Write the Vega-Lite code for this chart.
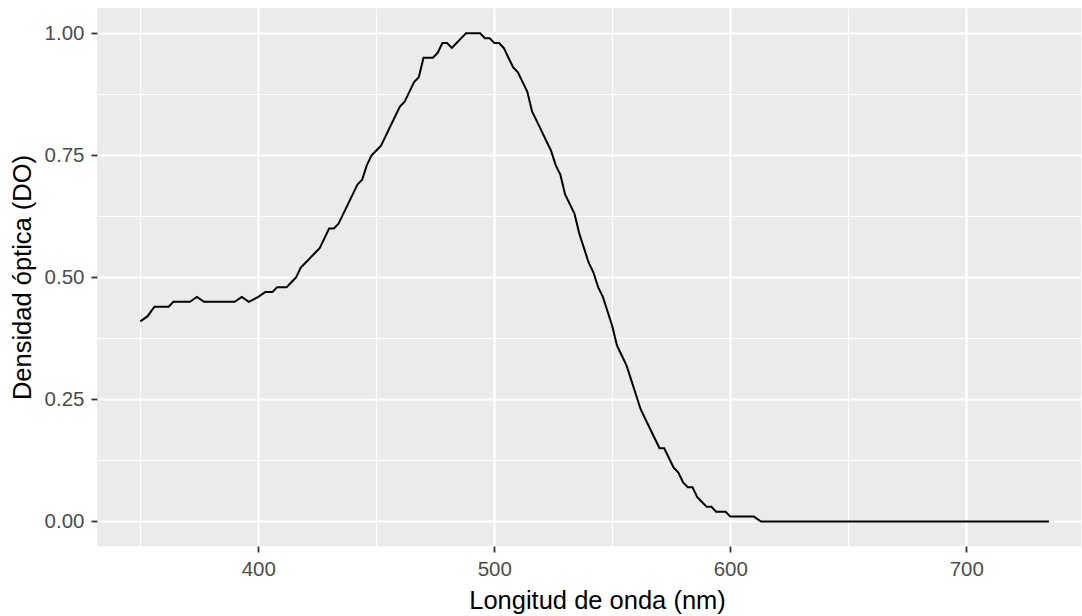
{
  "$schema": "https://vega.github.io/schema/vega-lite/v6.json",
  "width": 984,
  "height": 538,
  "autosize": "none",
  "padding": {"left": 97, "top": 8, "right": 1, "bottom": 70},
  "background": "white",
  "config": {
    "font": "Liberation Sans",
    "view": {"fill": "#EBEBEB", "stroke": null}
  },
  "data": {
    "values": [
      {"nm": 350, "do": 0.41}, {"nm": 353, "do": 0.42}, {"nm": 356, "do": 0.44}, {"nm": 360, "do": 0.44},
      {"nm": 362, "do": 0.44}, {"nm": 364, "do": 0.45}, {"nm": 368, "do": 0.45}, {"nm": 371, "do": 0.45},
      {"nm": 374, "do": 0.46}, {"nm": 377, "do": 0.45}, {"nm": 380, "do": 0.45}, {"nm": 385, "do": 0.45},
      {"nm": 390, "do": 0.45}, {"nm": 393, "do": 0.46}, {"nm": 396, "do": 0.45}, {"nm": 400, "do": 0.46},
      {"nm": 403, "do": 0.47}, {"nm": 406, "do": 0.47}, {"nm": 408, "do": 0.48}, {"nm": 412, "do": 0.48},
      {"nm": 414, "do": 0.49}, {"nm": 416, "do": 0.50}, {"nm": 418, "do": 0.52}, {"nm": 420, "do": 0.53},
      {"nm": 422, "do": 0.54}, {"nm": 424, "do": 0.55}, {"nm": 426, "do": 0.56}, {"nm": 428, "do": 0.58},
      {"nm": 430, "do": 0.60}, {"nm": 432, "do": 0.60}, {"nm": 434, "do": 0.61}, {"nm": 436, "do": 0.63},
      {"nm": 438, "do": 0.65}, {"nm": 440, "do": 0.67}, {"nm": 442, "do": 0.69}, {"nm": 444, "do": 0.70},
      {"nm": 446, "do": 0.73}, {"nm": 448, "do": 0.75}, {"nm": 450, "do": 0.76}, {"nm": 452, "do": 0.77},
      {"nm": 454, "do": 0.79}, {"nm": 456, "do": 0.81}, {"nm": 458, "do": 0.83}, {"nm": 460, "do": 0.85},
      {"nm": 462, "do": 0.86}, {"nm": 464, "do": 0.88}, {"nm": 466, "do": 0.90}, {"nm": 468, "do": 0.91},
      {"nm": 470, "do": 0.95}, {"nm": 472, "do": 0.95}, {"nm": 474, "do": 0.95}, {"nm": 476, "do": 0.96},
      {"nm": 478, "do": 0.98}, {"nm": 480, "do": 0.98}, {"nm": 482, "do": 0.97}, {"nm": 484, "do": 0.98},
      {"nm": 486, "do": 0.99}, {"nm": 488, "do": 1.00}, {"nm": 490, "do": 1.00}, {"nm": 492, "do": 1.00},
      {"nm": 494, "do": 1.00}, {"nm": 496, "do": 0.99}, {"nm": 498, "do": 0.99}, {"nm": 500, "do": 0.98},
      {"nm": 502, "do": 0.98}, {"nm": 504, "do": 0.97}, {"nm": 506, "do": 0.95}, {"nm": 508, "do": 0.93},
      {"nm": 510, "do": 0.92}, {"nm": 512, "do": 0.90}, {"nm": 514, "do": 0.88}, {"nm": 516, "do": 0.84},
      {"nm": 518, "do": 0.82}, {"nm": 520, "do": 0.80}, {"nm": 522, "do": 0.78}, {"nm": 524, "do": 0.76},
      {"nm": 526, "do": 0.73}, {"nm": 528, "do": 0.71}, {"nm": 530, "do": 0.67}, {"nm": 532, "do": 0.65},
      {"nm": 534, "do": 0.63}, {"nm": 536, "do": 0.59}, {"nm": 538, "do": 0.56}, {"nm": 540, "do": 0.53},
      {"nm": 542, "do": 0.51}, {"nm": 544, "do": 0.48}, {"nm": 546, "do": 0.46}, {"nm": 548, "do": 0.43},
      {"nm": 550, "do": 0.40}, {"nm": 552, "do": 0.36}, {"nm": 554, "do": 0.34}, {"nm": 556, "do": 0.32},
      {"nm": 558, "do": 0.29}, {"nm": 560, "do": 0.26}, {"nm": 562, "do": 0.23}, {"nm": 564, "do": 0.21},
      {"nm": 566, "do": 0.19}, {"nm": 568, "do": 0.17}, {"nm": 570, "do": 0.15}, {"nm": 572, "do": 0.15},
      {"nm": 574, "do": 0.13}, {"nm": 576, "do": 0.11}, {"nm": 578, "do": 0.10}, {"nm": 580, "do": 0.08},
      {"nm": 582, "do": 0.07}, {"nm": 584, "do": 0.07}, {"nm": 586, "do": 0.05}, {"nm": 588, "do": 0.04},
      {"nm": 590, "do": 0.03}, {"nm": 592, "do": 0.03}, {"nm": 594, "do": 0.02}, {"nm": 596, "do": 0.02},
      {"nm": 598, "do": 0.02}, {"nm": 600, "do": 0.01}, {"nm": 605, "do": 0.01}, {"nm": 610, "do": 0.01},
      {"nm": 613, "do": 0.00}, {"nm": 620, "do": 0.00}, {"nm": 650, "do": 0.00}, {"nm": 700, "do": 0.00},
      {"nm": 735, "do": 0.00}
    ]
  },
  "mark": {"type": "line", "color": "#000000", "strokeWidth": 2, "clip": true},
  "encoding": {
    "x": {
      "field": "nm",
      "type": "quantitative",
      "scale": {"domain": [331.65, 748.6], "nice": false, "zero": false},
      "axis": {
        "title": "Longitud de onda (nm)",
        "values": [350, 400, 450, 500, 550, 600, 650, 700],
        "labelExpr": "datum.value % 100 === 0 ? datum.label : ''",
        "domain": false,
        "grid": true,
        "gridColor": "#FFFFFF",
        "gridWidth": {"condition": {"test": "datum.value % 100 === 0", "value": 2.2}, "value": 1.1},
        "tickColor": "#333333",
        "tickSize": 6,
        "tickWidth": 1.8,
        "tickOpacity": {"condition": {"test": "datum.value % 100 === 0", "value": 1}, "value": 0},
        "labelColor": "#4D4D4D",
        "labelFontSize": 20.5,
        "labelPadding": 7,
        "titleColor": "#000000",
        "titleFontSize": 25.5,
        "titleFontWeight": "normal",
        "titleX": 500,
        "titlePadding": 9
      }
    },
    "y": {
      "field": "do",
      "type": "quantitative",
      "scale": {"domain": [-0.0502, 1.0518], "nice": false, "zero": false},
      "axis": {
        "title": "Densidad óptica (DO)",
        "values": [0, 0.125, 0.25, 0.375, 0.5, 0.625, 0.75, 0.875, 1],
        "format": ".2f",
        "labelExpr": "datum.value % 0.25 === 0 ? datum.label : ''",
        "domain": false,
        "grid": true,
        "gridColor": "#FFFFFF",
        "gridWidth": {"condition": {"test": "datum.value % 0.25 === 0", "value": 2.2}, "value": 1.1},
        "tickColor": "#333333",
        "tickSize": 6,
        "tickWidth": 1.8,
        "tickOpacity": {"condition": {"test": "datum.value % 0.25 === 0", "value": 1}, "value": 0},
        "labelColor": "#4D4D4D",
        "labelFontSize": 20.5,
        "labelPadding": 7,
        "titleColor": "#000000",
        "titleFontSize": 25.5,
        "titleFontWeight": "normal",
        "titlePadding": 9
      }
    }
  }
}
